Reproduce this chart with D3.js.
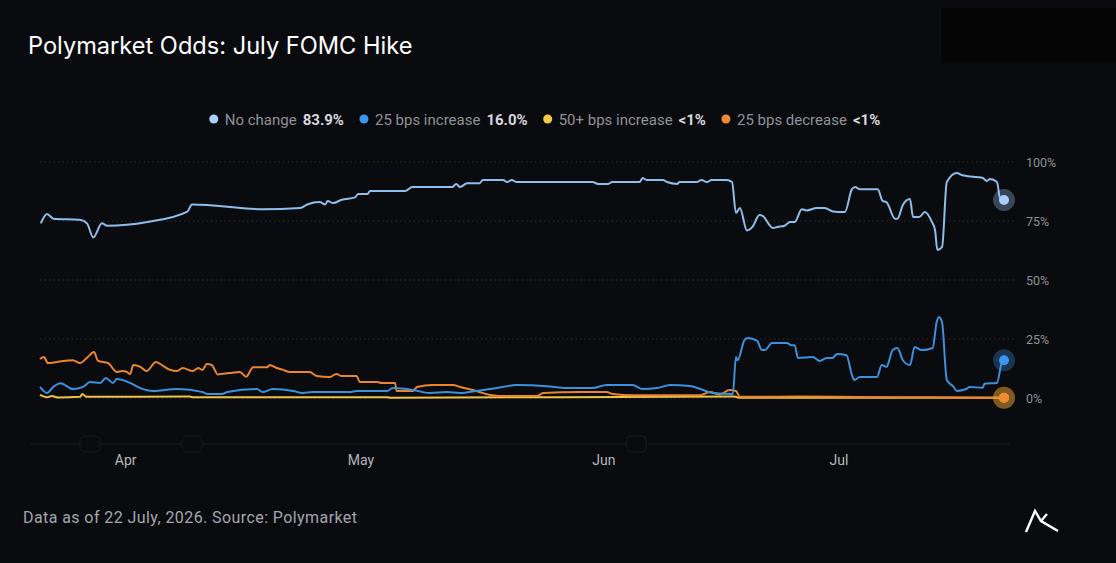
<!DOCTYPE html>
<html>
<head>
<meta charset="utf-8">
<script src="https://cdn.jsdelivr.net/npm/d3@7"></script>
<style>
  html, body { margin: 0; padding: 0; background: #0a0b0e; }
  svg { display: block; }
</style>
</head>
<body>
<div id="chart"></div>
<script>
/////////////////////////////////////////
//////////////// DATA ///////////////////
/////////////////////////////////////////

// days are counted from START, values are percent odds
const START = new Date(2026, 2, 21);
const END_DAY = 123;

const monthTicks = [new Date(2026, 3, 1), new Date(2026, 4, 1), new Date(2026, 5, 1), new Date(2026, 6, 1)];
const yTicks = [0, 25, 50, 75, 100];

const seriesNames = ["No change", "25 bps increase", "50+ bps increase", "25 bps decrease"];
const legendValues = ["83.9%", "16.0%", "<1%", "<1%"];

const noChange = [
  [0.1, 74], [0.9, 78], [1.7, 76], [5.1, 75.5], [6.0, 74], [6.8, 68], [7.9, 74], [8.6, 73],
  [13.7, 74.6], [18.8, 79], [19.4, 82], [28.4, 80], [33.2, 80.5], [34.1, 82], [35.7, 83],
  [36.4, 82], [36.7, 83.5], [37.4, 82.6], [38.5, 84], [40.2, 85], [40.6, 86.4], [41.8, 86.4],
  [42.1, 87.7], [46.6, 87.7], [47.5, 89.4], [52.6, 89.4], [53.1, 90.7], [53.6, 89.4],
  [54.5, 91], [56.1, 91], [56.5, 92.4], [59.1, 92.4], [59.6, 91.5], [60.2, 92.4], [60.8, 91.5],
  [70.5, 91.5], [71.2, 90.7], [72.5, 90.7], [73.0, 91.5], [76.5, 91.5], [76.9, 93.2],
  [77.4, 92.4], [79.5, 92.4], [80.0, 91.5], [81.3, 90.7], [81.6, 91.5], [83.8, 91.5],
  [84.4, 92.4], [85.1, 91.5], [85.7, 92.4], [87.6, 92.4], [88.3, 91.5], [88.8, 78.4],
  [89.3, 80.5], [90.2, 71], [90.9, 72.5], [91.8, 77.5], [92.2, 77.2], [93.5, 72], [94.1, 72.5],
  [95.0, 73], [95.7, 74.6], [96.3, 74.6], [97.2, 80], [97.8, 79.5], [99.1, 80.5], [100.1, 80.5],
  [101.2, 79], [101.8, 78.8], [102.7, 78.8], [103.6, 88.5], [104.0, 89.4], [104.6, 88.5],
  [106.9, 88.5], [107.5, 83.5], [108.0, 83], [109.1, 76], [109.4, 76], [110.1, 81.8],
  [111.0, 84.3], [111.4, 76.7], [112.2, 76.7], [112.9, 78.8], [113.8, 74.6], [114.2, 71.2],
  [114.5, 62.7], [115.1, 64], [115.7, 91.5], [117.0, 95.3], [117.6, 94.5], [118.4, 94],
  [119.5, 93.6], [120.3, 93.2], [120.8, 92], [121.2, 92.8], [122.1, 91.5], [122.5, 84.7],
  [123.0, 83.9]
];

const hike25 = [
  [0, 4.7], [0.9, 2.1], [1.7, 4.7], [2.6, 6.3], [4.2, 3.8], [5.5, 4.7], [6.4, 6.8], [7.7, 6.4],
  [8.4, 8.5], [9.3, 6.4], [9.8, 8], [11.5, 6.4], [12.8, 4.2], [14.4, 3], [17.5, 3.8],
  [20.8, 2.5], [21.3, 1.7], [23.2, 1.7], [23.9, 2.5], [27.7, 3.8], [28.4, 2.5], [29.7, 3.8],
  [32.3, 3], [33.5, 2.1], [34.8, 2.5], [39.5, 2.5], [40.4, 3], [44.3, 3], [45.0, 4.2],
  [47.6, 3.4], [49.7, 2.1], [51.9, 2.5], [53.6, 2.1], [55.7, 3], [58.3, 4.2], [60.8, 5.5],
  [64.7, 5], [67.2, 4.2], [70.5, 4.2], [72.3, 5.5], [75.6, 5.5], [76.9, 3.8], [78.7, 4.2],
  [80.4, 5.5], [82.9, 5.1], [84.6, 3.4], [85.8, 2.1], [88.4, 1.7], [88.8, 17.4], [89.0, 16],
  [89.9, 24.6], [90.3, 25.4], [91.5, 24.2], [92.1, 20.3], [92.5, 20.3], [93.4, 23.3],
  [95.3, 23.3], [95.9, 22.4], [96.3, 22.4], [96.7, 17], [98.6, 17.4], [99.5, 15.7],
  [100.4, 17], [101.1, 17], [101.7, 18.6], [102.9, 18.1], [103.6, 9.7], [103.9, 7.6],
  [104.6, 8.9], [106.8, 8.9], [107.4, 14], [108.0, 13.2], [108.8, 20.3], [109.4, 21.2],
  [110.1, 16], [111.0, 14], [111.6, 21.6], [112.5, 20.3], [113.9, 21.2], [114.4, 32],
  [114.7, 34.3], [115.1, 32], [115.7, 7.6], [116.5, 5], [117.0, 3], [118.2, 3.8],
  [118.6, 4.7], [120.3, 4.3], [120.5, 6], [122.1, 6.4], [122.7, 14.8], [123.0, 16.0]
];

const hike50 = [
  [0, 1.3], [0.9, 0.3], [1.5, 0.9], [2.3, 0.2], [5.1, 0.5], [5.4, 1.7], [5.9, 0.5],
  [19.1, 0.6], [19.5, 0.3], [44.4, 0.3], [44.6, 0.1], [88.6, 0.6], [89.3, 0.1], [123.0, 0.1]
];

const cut25 = [
  [0, 16.5], [0.5, 17.4], [1.0, 14.8], [2.2, 15.3], [4.2, 16], [5.1, 14.8], [6.1, 17.4],
  [6.9, 19.5], [7.4, 15.7], [8.7, 14.8], [9.8, 11], [10.5, 11.4], [11.1, 11], [11.5, 10.2],
  [11.9, 14], [12.8, 13.2], [13.6, 11.4], [14.8, 15.3], [15.7, 13.6], [16.6, 11.9],
  [17.5, 11.4], [18.2, 12.7], [19.5, 11.4], [20.2, 12.7], [20.7, 11.9], [21.3, 14.4],
  [21.9, 14], [22.7, 10], [24.2, 10.6], [25.5, 11], [26.3, 9], [27.2, 13], [29.0, 13],
  [29.3, 14], [30.2, 12.7], [31.0, 11.9], [31.9, 11], [34.4, 11], [35.3, 9.3], [37.0, 8.9],
  [37.8, 10.2], [38.5, 9.3], [40.4, 9.3], [40.8, 6.8], [43.0, 6.8], [43.6, 6.4], [45.3, 6.4],
  [45.5, 3], [47.6, 3], [48.1, 4.7], [50.1, 5.5], [52.7, 5.5], [53.6, 4.7], [55.7, 3],
  [57.4, 1.3], [59.6, 0.8], [63.4, 0.8], [64.2, 2.1], [68.9, 2.5], [72.3, 2.5], [73.1, 1.7],
  [75.6, 1.2], [84.2, 1.2], [85.5, 2.5], [86.7, 1.5], [88.0, 3.4], [88.8, 3], [89.3, 0.5],
  [96.9, 0.6], [104.6, 0.4], [113.5, 0.3], [123.0, 0.1]
];

// small range handles on the bottom baseline (day offsets)
const handleDays = [6.4, 19.4, 76.1];

/////////////////////////////////////////
/////////////// COLORS //////////////////
/////////////////////////////////////////

const COLORS = {
  background: "#0a0b0e",
  noChange: "#8fbdec",
  hike25: "#3b91de",
  hike50: "#eec243",
  cut25: "#ea8530",
  grid: "#2c3037",
  yText: "#8b9099",
  xText: "#b3b8bf",
  legendText: "#8d929a",
  legendValue: "#d5d9de"
};

const series = [
  { name: seriesNames[2], data: hike50, color: COLORS.hike50, dot: "#f5c842" },
  { name: seriesNames[3], data: cut25, color: COLORS.cut25, dot: "#f08a30" },
  { name: seriesNames[1], data: hike25, color: COLORS.hike25, dot: "#3a97f0" },
  { name: seriesNames[0], data: noChange, color: COLORS.noChange, dot: "#a8d0ff" }
];
const legendColors = ["#a8d0ff", "#3a97f0", "#f5c842", "#f08a30"];

//////////////////////////////////////////
/////////////// Create SVG ///////////////
//////////////////////////////////////////

const WIDTH = 1116, HEIGHT = 563;

const svg = d3.select("#chart").append("svg")
  .attr("width", WIDTH)
  .attr("height", HEIGHT);

svg.append("rect")
  .attr("width", WIDTH).attr("height", HEIGHT)
  .attr("fill", COLORS.background);

// dark patch in the top right corner
svg.append("rect")
  .attr("x", 941).attr("y", 8).attr("width", 175).attr("height", 55)
  .attr("fill", "#060505");

const dayToDate = d => new Date(START.getTime() + d * 864e5);

const x = d3.scaleTime()
  .domain([START, dayToDate(END_DAY)])
  .range([40, 1004]);

const y = d3.scaleLinear()
  .domain([0, 100])
  .range([398, 162]);

// title
svg.append("text")
  .attr("x", 28).attr("y", 54)
  .attr("font-family", "Inter, sans-serif")
  .attr("font-size", 23.6)
  .attr("fill", "#ffffff")
  .text("Polymarket Odds: July FOMC Hike");

//////////////////// Legend /////////////////////
const legendG = svg.append("g");
const items = [];
seriesNames.forEach((name, i) => {
  const g = legendG.append("g");
  g.append("circle").attr("cx", 0).attr("cy", 0).attr("r", 4.5).attr("fill", legendColors[i]);
  const t = g.append("text")
    .attr("x", 11).attr("y", 5.5)
    .attr("font-family", "Roboto, sans-serif")
    .attr("font-size", 15);
  t.append("tspan").attr("fill", COLORS.legendText).text(name);
  t.append("tspan").attr("dx", 6).attr("fill", COLORS.legendValue).attr("font-weight", "bold").text(legendValues[i]);
  const w = 11 + t.node().getComputedTextLength() + 6;
  items.push({ g, w });
});
const gap = 20;
const totalW = d3.sum(items, d => d.w) + gap * (items.length - 1);
let lx = 210 + (674 - totalW) / 2;
items.forEach(it => {
  it.g.attr("transform", `translate(${lx},119)`);
  lx += it.w + gap;
});

//////////////////// Grid & axes /////////////////////
const grid = svg.append("g");
grid.selectAll("line")
  .data(yTicks)
  .join("line")
    .attr("x1", 40).attr("x2", 1015)
    .attr("y1", d => y(d)).attr("y2", d => y(d))
    .attr("stroke", COLORS.grid)
    .attr("stroke-width", 1)
    .attr("stroke-dasharray", "1.5,3");

const yAxis = d3.axisRight(y).tickValues(yTicks).tickFormat(d => d + "%").tickSize(0);
svg.append("g")
  .attr("transform", "translate(1022,0)")
  .call(yAxis)
  .call(g => g.select(".domain").remove())
  .call(g => g.selectAll("text")
    .attr("fill", COLORS.yText)
    .attr("font-family", "Roboto, sans-serif")
    .attr("font-size", 12.5)
    .attr("x", 4));

// bottom baseline with the small range handles
const baseY = y(0) + 46;
svg.append("line")
  .attr("x1", 30).attr("x2", 1010)
  .attr("y1", baseY).attr("y2", baseY)
  .attr("stroke", "#14171b").attr("stroke-width", 1.5);

svg.append("g").selectAll("rect")
  .data(handleDays)
  .join("rect")
    .attr("x", d => x(dayToDate(d)) - 10)
    .attr("y", baseY - 8)
    .attr("width", 20).attr("height", 16)
    .attr("rx", 5)
    .attr("fill", COLORS.background)
    .attr("stroke", "#13161a").attr("stroke-width", 1.5);

const xAxis = d3.axisBottom(x).tickValues(monthTicks).tickFormat(d3.timeFormat("%b")).tickSize(0);
svg.append("g")
  .attr("transform", `translate(-1,${baseY + 8})`)
  .call(xAxis)
  .call(g => g.select(".domain").remove())
  .call(g => g.selectAll("text")
    .attr("fill", COLORS.xText)
    .attr("font-family", "Roboto, sans-serif")
    .attr("font-size", 14));

//////////////////// Lines /////////////////////
const line = d3.line()
  .x(d => x(dayToDate(d[0])))
  .y(d => y(d[1]))
  .curve(d3.curveMonotoneX);

svg.append("g").selectAll("path")
  .data(series)
  .join("path")
    .attr("d", d => line(d.data))
    .attr("fill", "none")
    .attr("stroke", d => d.color)
    .attr("stroke-width", 2)
    .attr("stroke-linejoin", "round");

// end markers with halo
const ends = svg.append("g").selectAll("g")
  .data(series)
  .join("g")
    .attr("transform", d => {
      const last = d.data[d.data.length - 1];
      return `translate(${x(dayToDate(last[0]))},${y(last[1])})`;
    });
ends.append("circle")
  .attr("r", 11)
  .attr("fill", d => d.dot)
  .attr("fill-opacity", 0.3);
ends.append("circle")
  .attr("r", 5)
  .attr("fill", d => d.dot);

//////////////////// Footer /////////////////////
svg.append("text")
  .attr("x", 23).attr("y", 523)
  .attr("font-family", "Roboto, sans-serif")
  .attr("font-size", 16)
  .attr("textLength", 334)
  .attr("fill", "#a3a7ad")
  .text("Data as of 22 July, 2026. Source: Polymarket");

// logo mark
svg.append("path")
  .attr("d", "M1026,532 L1035,511 L1041,521 L1058,531 M1047,514 L1041,521")
  .attr("fill", "none")
  .attr("stroke", "#ffffff")
  .attr("stroke-width", 2.4)
  .attr("stroke-linejoin", "miter");
</script>
</body>
</html>
